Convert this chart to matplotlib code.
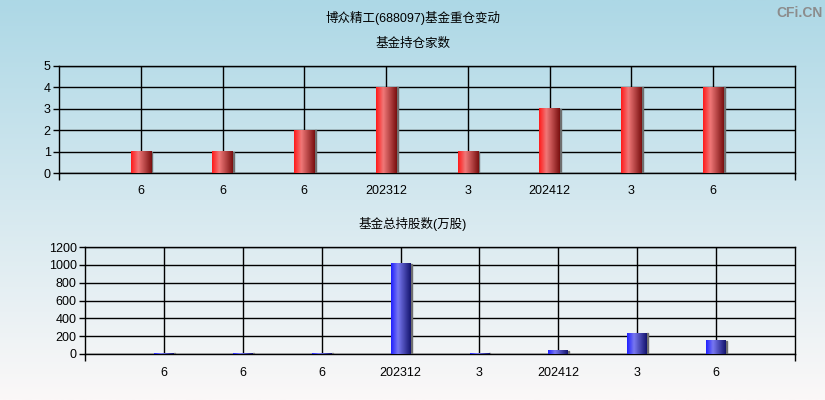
import numpy as np
import matplotlib
matplotlib.use('Agg')
import matplotlib.pyplot as plt
from matplotlib.colors import LinearSegmentedColormap
from matplotlib.patches import Rectangle

# data
quarters = ['6', '6', '6', '202312', '3', '202412', '3', '6']
fund_counts = [1, 1, 2, 4, 1, 3, 4, 4]
fund_shares = [10, 10, 10, 1010, 10, 34, 235, 146]  # 万股

plt.rcParams['font.family'] = ['Liberation Sans', 'Noto Sans CJK SC', 'DejaVu Sans']
plt.rcParams['font.size'] = 9

red_cmap = LinearSegmentedColormap.from_list(
    'red_bar', [(0, '#ff1a1a'), (0.35, '#f07878'), (1, '#7a1010')])
blue_cmap = LinearSegmentedColormap.from_list(
    'blue_bar', [(0, '#2020ff'), (0.35, '#7878f0'), (1, '#14146e')])

fig = plt.figure(figsize=(8.25, 4), dpi=100)

# background gradient, light blue on top fading to almost white
bg = fig.add_axes([0, 0, 1, 1], zorder=-10)
top = np.array([173, 216, 230]) / 255
bottom = np.array([251, 248, 248]) / 255
t = np.linspace(0, 1, 256).reshape(-1, 1, 1)
bg.imshow(top + (bottom - top) * t, aspect='auto', extent=(0, 1, 0, 1))
bg.axis('off')


def draw_panel(rect, values, cmap, yticks):
    ax = fig.add_axes(rect)
    ax.set_facecolor('none')
    x = np.arange(1, len(values) + 1)
    bars = ax.bar(x, values, width=0.25, color='none', zorder=3)
    grad = np.linspace(0, 1, 64).reshape(1, -1)
    for b in bars:
        x0, y0, w, h = b.get_x(), b.get_y(), b.get_width(), b.get_height()
        ax.add_patch(Rectangle((x0 + w, y0), w * 0.06, h, color='#6e6e6e', zorder=3))
        ax.imshow(grad, cmap=cmap, extent=(x0, x0 + w, y0, y0 + h),
                  aspect='auto', interpolation='bilinear', zorder=4)
    ax.set_xlim(0, len(values) + 1)
    ax.set_ylim(yticks[0], yticks[-1])
    ax.set_xticks(x)
    ax.set_xticklabels(quarters)
    ax.set_xticks([0, len(values) + 1], minor=True)
    ax.tick_params(axis='x', which='major', length=0, pad=9, labelsize=9)
    ax.tick_params(axis='x', which='minor', length=5, width=1, direction='out')
    ax.set_yticks(yticks)
    ax.tick_params(axis='y', length=4, width=1, direction='out', pad=2, labelsize=9)
    ax.grid(True, color='black', linewidth=1)
    ax.set_axisbelow(True)
    for s in ax.spines.values():
        s.set_color('black')
        s.set_linewidth(1)
    return ax


draw_panel([59 / 825, 1 - 173 / 400, 736 / 825, 107 / 400],
           fund_counts, red_cmap, [0, 1, 2, 3, 4, 5])
draw_panel([85 / 825, 1 - 354 / 400, 710 / 825, 107 / 400],
           fund_shares, blue_cmap, [0, 200, 400, 600, 800, 1000, 1200])

fig.text(0.5, 1 - 18 / 400, '博众精工(688097)基金重仓变动', ha='center', va='center', fontsize=9)
fig.text(0.5, 1 - 44 / 400, '基金持仓家数', ha='center', va='center', fontsize=9)
fig.text(0.5, 1 - 224 / 400, '基金总持股数(万股)', ha='center', va='center', fontsize=9)
fig.text(0.997, 0.985, 'CFi.CN', ha='right', va='top', color='#8c8c8c',
         fontsize=10, fontweight='bold')

fig.savefig('out.png', dpi=100)
